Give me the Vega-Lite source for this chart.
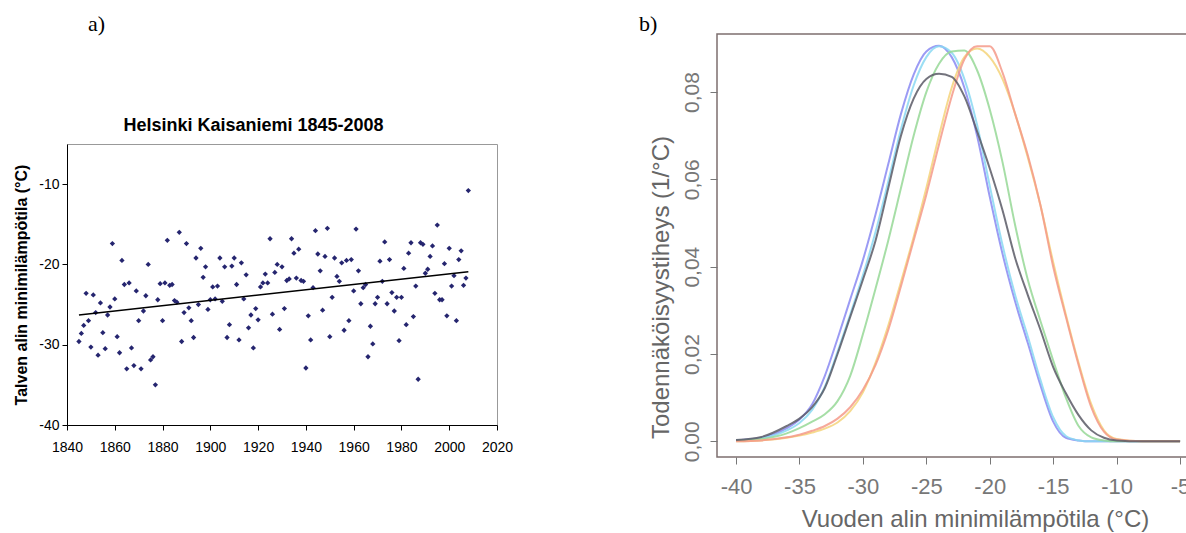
{
"$schema": "https://vega.github.io/schema/vega-lite/v6.json",
"padding": {"left": 13, "top": 12, "right": 0, "bottom": 0},
"config": {"font": "Liberation Sans", "view": {"stroke": null}},
"spacing": 124,
"datasets": {
"scatter": [
{"year":1845,"t":-29.6},{"year":1846,"t":-28.6},{"year":1847,"t":-27.6},{"year":1848,"t":-23.6},{"year":1849,"t":-27.0},{"year":1850,"t":-30.3},{"year":1851,"t":-23.8},{"year":1852,"t":-26.0},{"year":1853,"t":-31.3},{"year":1854,"t":-24.8},{"year":1855,"t":-28.5},{"year":1856,"t":-30.5},{"year":1857,"t":-26.3},{"year":1858,"t":-25.3},{"year":1859,"t":-17.4},{"year":1860,"t":-24.3},{"year":1861,"t":-29.0},{"year":1862,"t":-31.0},{"year":1863,"t":-19.5},{"year":1864,"t":-22.5},{"year":1865,"t":-33.0},{"year":1866,"t":-22.3},{"year":1867,"t":-30.4},{"year":1868,"t":-32.6},{"year":1869,"t":-23.3},{"year":1870,"t":-27.0},{"year":1871,"t":-33.0},{"year":1872,"t":-25.8},{"year":1873,"t":-23.9},{"year":1874,"t":-20.0},{"year":1875,"t":-31.9},{"year":1876,"t":-31.5},{"year":1877,"t":-35.0},{"year":1878,"t":-24.4},{"year":1879,"t":-22.4},{"year":1880,"t":-27.0},{"year":1881,"t":-22.3},{"year":1882,"t":-17.0},{"year":1883,"t":-22.6},{"year":1884,"t":-22.5},{"year":1885,"t":-24.5},{"year":1886,"t":-24.7},{"year":1887,"t":-16.0},{"year":1888,"t":-29.6},{"year":1889,"t":-26.0},{"year":1890,"t":-17.4},{"year":1891,"t":-25.4},{"year":1892,"t":-27.0},{"year":1893,"t":-29.1},{"year":1894,"t":-19.2},{"year":1895,"t":-25.0},{"year":1896,"t":-18.0},{"year":1897,"t":-21.6},{"year":1898,"t":-20.3},{"year":1899,"t":-25.6},{"year":1900,"t":-24.4},{"year":1901,"t":-22.8},{"year":1902,"t":-24.3},{"year":1903,"t":-22.7},{"year":1904,"t":-19.2},{"year":1905,"t":-24.6},{"year":1906,"t":-20.3},{"year":1907,"t":-29.1},{"year":1908,"t":-27.5},{"year":1909,"t":-20.2},{"year":1910,"t":-19.2},{"year":1911,"t":-22.5},{"year":1912,"t":-29.4},{"year":1913,"t":-19.8},{"year":1914,"t":-24.3},{"year":1915,"t":-21.3},{"year":1916,"t":-27.9},{"year":1917,"t":-26.3},{"year":1918,"t":-30.4},{"year":1919,"t":-25.5},{"year":1920,"t":-26.9},{"year":1921,"t":-22.8},{"year":1922,"t":-22.3},{"year":1923,"t":-21.2},{"year":1924,"t":-22.3},{"year":1925,"t":-16.8},{"year":1926,"t":-26.2},{"year":1927,"t":-21.0},{"year":1928,"t":-20.0},{"year":1929,"t":-28.1},{"year":1930,"t":-20.3},{"year":1931,"t":-25.5},{"year":1932,"t":-22.0},{"year":1933,"t":-21.8},{"year":1934,"t":-16.8},{"year":1935,"t":-18.6},{"year":1936,"t":-21.7},{"year":1937,"t":-18.1},{"year":1938,"t":-22.0},{"year":1939,"t":-22.1},{"year":1940,"t":-32.9},{"year":1941,"t":-26.4},{"year":1942,"t":-29.4},{"year":1943,"t":-22.9},{"year":1944,"t":-15.8},{"year":1945,"t":-18.7},{"year":1946,"t":-20.8},{"year":1947,"t":-25.7},{"year":1948,"t":-19.0},{"year":1949,"t":-15.5},{"year":1950,"t":-29.0},{"year":1951,"t":-24.1},{"year":1952,"t":-19.2},{"year":1953,"t":-21.5},{"year":1954,"t":-22.1},{"year":1955,"t":-19.8},{"year":1956,"t":-28.2},{"year":1957,"t":-19.5},{"year":1958,"t":-27.0},{"year":1959,"t":-19.4},{"year":1960,"t":-23.3},{"year":1961,"t":-15.6},{"year":1962,"t":-20.8},{"year":1963,"t":-24.9},{"year":1964,"t":-22.9},{"year":1965,"t":-22.5},{"year":1966,"t":-31.5},{"year":1967,"t":-27.7},{"year":1968,"t":-29.9},{"year":1969,"t":-24.9},{"year":1970,"t":-24.1},{"year":1971,"t":-19.6},{"year":1972,"t":-22.1},{"year":1973,"t":-17.2},{"year":1974,"t":-24.9},{"year":1975,"t":-19.4},{"year":1976,"t":-23.5},{"year":1977,"t":-25.8},{"year":1978,"t":-24.1},{"year":1979,"t":-29.5},{"year":1980,"t":-24.1},{"year":1981,"t":-20.5},{"year":1982,"t":-27.5},{"year":1983,"t":-18.6},{"year":1984,"t":-17.3},{"year":1985,"t":-26.5},{"year":1986,"t":-22.7},{"year":1987,"t":-34.3},{"year":1988,"t":-17.3},{"year":1989,"t":-17.5},{"year":1990,"t":-21.1},{"year":1991,"t":-20.6},{"year":1992,"t":-19.0},{"year":1993,"t":-17.7},{"year":1994,"t":-23.6},{"year":1995,"t":-15.1},{"year":1996,"t":-24.4},{"year":1997,"t":-24.4},{"year":1998,"t":-19.9},{"year":1999,"t":-26.4},{"year":2000,"t":-18.0},{"year":2001,"t":-22.7},{"year":2002,"t":-21.4},{"year":2003,"t":-27.0},{"year":2004,"t":-19.4},{"year":2005,"t":-18.3},{"year":2006,"t":-22.6},{"year":2007,"t":-21.7},{"year":2008,"t":-10.8}
],
"trend": [{"year":1845,"t":-26.3},{"year":2008,"t":-20.9}],
"dens": [
{"c":"blue","x":-40,"y":0.0002},{"c":"blue","x":-38,"y":0.0008},{"c":"blue","x":-36,"y":0.003},{"c":"blue","x":-35,"y":0.005},{"c":"blue","x":-34,"y":0.0085},{"c":"blue","x":-33,"y":0.015},{"c":"blue","x":-32,"y":0.0235},{"c":"blue","x":-31,"y":0.0325},{"c":"blue","x":-30,"y":0.0415},{"c":"blue","x":-29,"y":0.052},{"c":"blue","x":-28,"y":0.0635},{"c":"blue","x":-27,"y":0.075},{"c":"blue","x":-26,"y":0.084},{"c":"blue","x":-25,"y":0.0893},{"c":"blue","x":-24,"y":0.0906},{"c":"blue","x":-23,"y":0.088},{"c":"blue","x":-22,"y":0.081},{"c":"blue","x":-21,"y":0.07},{"c":"blue","x":-20,"y":0.056},{"c":"blue","x":-19,"y":0.043},{"c":"blue","x":-18,"y":0.032},{"c":"blue","x":-17,"y":0.0225},{"c":"blue","x":-16,"y":0.0128},{"c":"blue","x":-15,"y":0.0045},{"c":"blue","x":-14,"y":0.0008},{"c":"blue","x":-13,"y":0.0002},{"c":"blue","x":-12,"y":0},{"c":"blue","x":-11,"y":0},{"c":"blue","x":-10,"y":0},{"c":"blue","x":-8,"y":0},{"c":"blue","x":-5,"y":0},
{"c":"cyan","x":-40,"y":0.0002},{"c":"cyan","x":-38,"y":0.0007},{"c":"cyan","x":-36,"y":0.0025},{"c":"cyan","x":-35,"y":0.0042},{"c":"cyan","x":-34,"y":0.0072},{"c":"cyan","x":-33,"y":0.0125},{"c":"cyan","x":-32,"y":0.0205},{"c":"cyan","x":-31,"y":0.029},{"c":"cyan","x":-30,"y":0.038},{"c":"cyan","x":-29,"y":0.048},{"c":"cyan","x":-28,"y":0.0595},{"c":"cyan","x":-27,"y":0.0715},{"c":"cyan","x":-26,"y":0.0815},{"c":"cyan","x":-25,"y":0.088},{"c":"cyan","x":-24,"y":0.0905},{"c":"cyan","x":-23,"y":0.089},{"c":"cyan","x":-22,"y":0.083},{"c":"cyan","x":-21,"y":0.0725},{"c":"cyan","x":-20,"y":0.0585},{"c":"cyan","x":-19,"y":0.045},{"c":"cyan","x":-18,"y":0.0335},{"c":"cyan","x":-17,"y":0.024},{"c":"cyan","x":-16,"y":0.014},{"c":"cyan","x":-15,"y":0.0055},{"c":"cyan","x":-14,"y":0.0012},{"c":"cyan","x":-13,"y":0.0002},{"c":"cyan","x":-12,"y":0},{"c":"cyan","x":-11,"y":0},{"c":"cyan","x":-10,"y":0},{"c":"cyan","x":-8,"y":0},{"c":"cyan","x":-5,"y":0},
{"c":"green","x":-40,"y":0.0001},{"c":"green","x":-38,"y":0.0005},{"c":"green","x":-36,"y":0.0018},{"c":"green","x":-35,"y":0.003},{"c":"green","x":-34,"y":0.0045},{"c":"green","x":-33,"y":0.0062},{"c":"green","x":-32,"y":0.0092},{"c":"green","x":-31,"y":0.015},{"c":"green","x":-30,"y":0.0245},{"c":"green","x":-29,"y":0.035},{"c":"green","x":-28,"y":0.046},{"c":"green","x":-27,"y":0.058},{"c":"green","x":-26,"y":0.07},{"c":"green","x":-25,"y":0.08},{"c":"green","x":-24,"y":0.0865},{"c":"green","x":-23,"y":0.0893},{"c":"green","x":-22,"y":0.0895},{"c":"green","x":-21,"y":0.085},{"c":"green","x":-20,"y":0.076},{"c":"green","x":-19,"y":0.064},{"c":"green","x":-18,"y":0.0495},{"c":"green","x":-17,"y":0.037},{"c":"green","x":-16,"y":0.0275},{"c":"green","x":-15,"y":0.0185},{"c":"green","x":-14,"y":0.01},{"c":"green","x":-13,"y":0.0035},{"c":"green","x":-12,"y":0.0009},{"c":"green","x":-11,"y":0.0002},{"c":"green","x":-10,"y":0},{"c":"green","x":-8,"y":0},{"c":"green","x":-5,"y":0},
{"c":"yellow","x":-40,"y":0},{"c":"yellow","x":-38,"y":0.0002},{"c":"yellow","x":-36,"y":0.0008},{"c":"yellow","x":-35,"y":0.0013},{"c":"yellow","x":-34,"y":0.002},{"c":"yellow","x":-33,"y":0.0029},{"c":"yellow","x":-32,"y":0.0043},{"c":"yellow","x":-31,"y":0.0069},{"c":"yellow","x":-30,"y":0.0112},{"c":"yellow","x":-29,"y":0.018},{"c":"yellow","x":-28,"y":0.0265},{"c":"yellow","x":-27,"y":0.0365},{"c":"yellow","x":-26,"y":0.0468},{"c":"yellow","x":-25,"y":0.058},{"c":"yellow","x":-24,"y":0.07},{"c":"yellow","x":-23,"y":0.081},{"c":"yellow","x":-22,"y":0.088},{"c":"yellow","x":-21,"y":0.09},{"c":"yellow","x":-20,"y":0.088},{"c":"yellow","x":-19,"y":0.083},{"c":"yellow","x":-18,"y":0.075},{"c":"yellow","x":-17,"y":0.065},{"c":"yellow","x":-16,"y":0.054},{"c":"yellow","x":-15,"y":0.041},{"c":"yellow","x":-14,"y":0.029},{"c":"yellow","x":-13,"y":0.018},{"c":"yellow","x":-12,"y":0.0085},{"c":"yellow","x":-11,"y":0.0025},{"c":"yellow","x":-10,"y":0.0005},{"c":"yellow","x":-8,"y":0},{"c":"yellow","x":-5,"y":0},
{"c":"red","x":-40,"y":0},{"c":"red","x":-38,"y":0.0002},{"c":"red","x":-36,"y":0.0009},{"c":"red","x":-35,"y":0.0015},{"c":"red","x":-34,"y":0.0024},{"c":"red","x":-33,"y":0.0035},{"c":"red","x":-32,"y":0.0052},{"c":"red","x":-31,"y":0.0078},{"c":"red","x":-30,"y":0.0118},{"c":"red","x":-29,"y":0.0175},{"c":"red","x":-28,"y":0.0255},{"c":"red","x":-27,"y":0.0355},{"c":"red","x":-26,"y":0.046},{"c":"red","x":-25,"y":0.0565},{"c":"red","x":-24,"y":0.068},{"c":"red","x":-23,"y":0.079},{"c":"red","x":-22,"y":0.0875},{"c":"red","x":-21,"y":0.0905},{"c":"red","x":-20,"y":0.0905},{"c":"red","x":-19,"y":0.0845},{"c":"red","x":-18,"y":0.075},{"c":"red","x":-17,"y":0.0655},{"c":"red","x":-16,"y":0.054},{"c":"red","x":-15,"y":0.04},{"c":"red","x":-14,"y":0.0285},{"c":"red","x":-13,"y":0.0175},{"c":"red","x":-12,"y":0.0078},{"c":"red","x":-11,"y":0.0022},{"c":"red","x":-10,"y":0.0004},{"c":"red","x":-8,"y":0},{"c":"red","x":-5,"y":0},
{"c":"black","x":-40,"y":0.0003},{"c":"black","x":-38,"y":0.001},{"c":"black","x":-36,"y":0.0035},{"c":"black","x":-35,"y":0.0052},{"c":"black","x":-34,"y":0.0078},{"c":"black","x":-33,"y":0.0122},{"c":"black","x":-32,"y":0.02},{"c":"black","x":-31,"y":0.0285},{"c":"black","x":-30,"y":0.037},{"c":"black","x":-29,"y":0.046},{"c":"black","x":-28,"y":0.058},{"c":"black","x":-27,"y":0.07},{"c":"black","x":-26,"y":0.0785},{"c":"black","x":-25,"y":0.083},{"c":"black","x":-24,"y":0.0842},{"c":"black","x":-23,"y":0.0835},{"c":"black","x":-22,"y":0.079},{"c":"black","x":-21,"y":0.071},{"c":"black","x":-20,"y":0.0625},{"c":"black","x":-19,"y":0.053},{"c":"black","x":-18,"y":0.042},{"c":"black","x":-17,"y":0.0335},{"c":"black","x":-16,"y":0.0255},{"c":"black","x":-15,"y":0.017},{"c":"black","x":-14,"y":0.011},{"c":"black","x":-13,"y":0.006},{"c":"black","x":-12,"y":0.0025},{"c":"black","x":-11,"y":0.0008},{"c":"black","x":-10,"y":0.0002},{"c":"black","x":-8,"y":0},{"c":"black","x":-5,"y":0}
]
},
"hconcat": [
{
"title": {"text": "a)", "font": "Liberation Serif", "fontSize": 22, "fontWeight": "normal", "color": "black", "anchor": "start", "frame": "group", "dx": 21, "offset": -2},
"spacing": 4,
"vconcat": [
{"width": 430, "height": 77, "data": {"values": []}, "mark": "point", "encoding": {}, "view": {"stroke": null}},
{
"width": 430, "height": 281,
"view": {"stroke": "#999999", "strokeWidth": 1},
"encoding": {
"y": {"field": "t", "type": "quantitative", "scale": {"domain": [-40, -5], "nice": false, "zero": false},
"axis": {"values": [-40, -30, -20, -10], "labelExpr": "'' + datum.value", "domainColor": "black", "tickColor": "black", "tickSize": 5, "labelFontSize": 14, "labelColor": "black", "labelPadding": 3, "grid": false, "title": "Talven alin minimilämpötila (°C)", "titleFontSize": 16, "titleFontWeight": "bold", "titleColor": "black", "titlePadding": 9}}
},
"layer": [
{"data": {"name": "scatter"},
"mark": {"type": "point", "shape": "diamond", "filled": true, "size": 28, "color": "#25256f", "opacity": 1},
"encoding": {"x": {"field": "year", "type": "quantitative", "scale": {"domain": [1840, 2020], "nice": false, "zero": false},
"axis": {"orient": "bottom", "values": [1840, 1860, 1880, 1900, 1920, 1940, 1960, 1980, 2000, 2020], "format": "d", "labelFlush": false, "domainColor": "black", "tickColor": "black", "tickSize": 5, "labelFontSize": 14, "labelColor": "black", "labelPadding": 10, "grid": false, "title": null}}}},
{"data": {"name": "trend"},
"mark": {"type": "line", "color": "black", "strokeWidth": 1.5},
"encoding": {"x": {"field": "year", "type": "quantitative",
"axis": {"orient": "top", "labels": false, "ticks": false, "domain": false, "grid": false, "title": "Helsinki Kaisaniemi 1845-2008", "titleX": 186, "titleFontSize": 18, "titleFontWeight": "bold", "titleColor": "black", "titlePadding": 10}}}}
]
}
]
},
{
"width": 484, "height": 423,
"view": {"stroke": "#7d6f6f", "strokeWidth": 1.5},
"title": {"text": "b)", "font": "Liberation Serif", "fontSize": 22, "fontWeight": "normal", "color": "black", "anchor": "start", "frame": "group", "dx": -78, "offset": -2},
"data": {"name": "dens"},
"mark": {"type": "line", "interpolate": "monotone", "strokeWidth": 2, "opacity": 0.85},
"encoding": {
"x": {"field": "x", "type": "quantitative", "scale": {"domain": [-41.5, -3.35], "nice": false, "zero": false},
"axis": {"values": [-40, -35, -30, -25, -20, -15, -10, -5], "labelExpr": "'' + datum.value", "labelFlush": false, "labelOverlap": false, "domain": false, "tickColor": "#777777", "tickSize": 7, "labelFontSize": 22, "labelColor": "#777777", "labelPadding": 12, "grid": false, "title": "Vuoden alin minimilämpötila (°C)", "titleX": 258, "titleFontSize": 24, "titleFontWeight": "normal", "titleColor": "#666666", "titlePadding": 10}},
"y": {"field": "y", "type": "quantitative", "scale": {"domain": [-0.0036, 0.0933], "nice": false, "zero": false},
"axis": {"values": [0, 0.02, 0.04, 0.06, 0.08], "labelExpr": "replace(format(datum.value, '.2f'), '.', ',')", "labelAngle": 270, "labelOverlap": false, "domain": false, "tickColor": "#777777", "tickSize": 7, "labelFontSize": 21, "labelColor": "#777777", "labelPadding": 8, "grid": false, "title": "Todennäköisyystiheys  (1/°C)", "titleY": 253, "titleFontSize": 24, "titleFontWeight": "normal", "titleColor": "#666666", "titlePadding": 8}},
"color": {"field": "c", "type": "nominal", "legend": null,
"scale": {"domain": ["blue", "cyan", "green", "yellow", "red", "black"], "range": ["#8a8af2", "#8ad8f2", "#96d896", "#f5d47a", "#f59a8a", "#5a5a66"]}}
}
}
]
}
